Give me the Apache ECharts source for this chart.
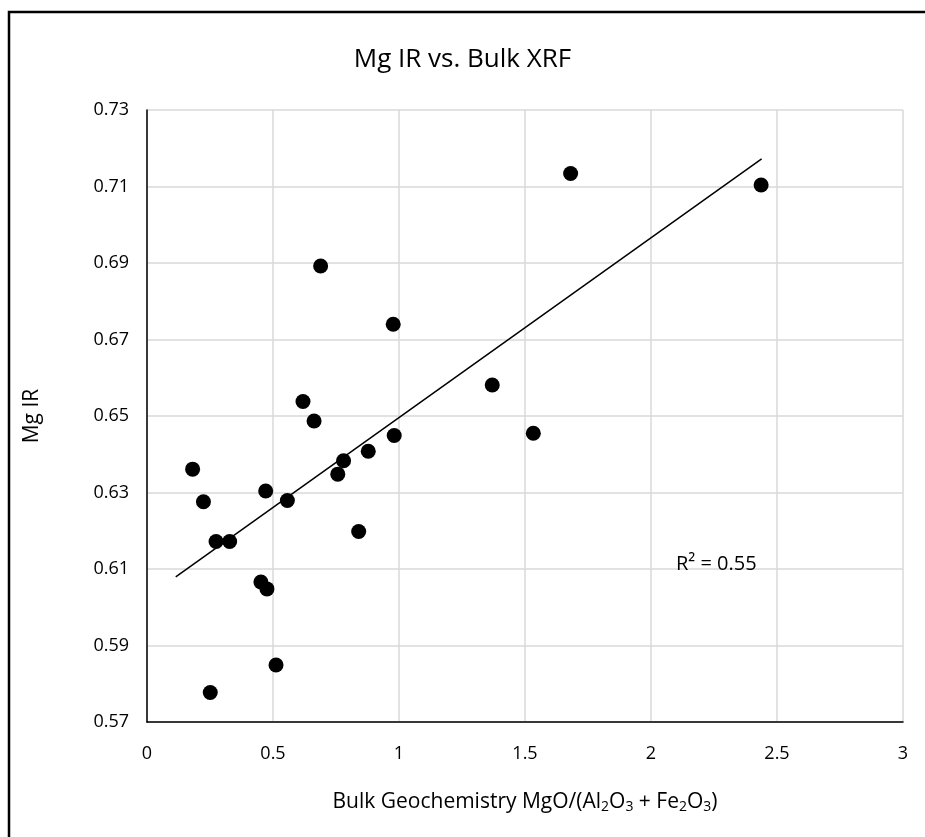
<!DOCTYPE html>
<html>
<head>
<meta charset="utf-8">
<script src="https://cdn.jsdelivr.net/npm/echarts@6/dist/echarts.min.js"></script>
<style>
html,body{margin:0;padding:0;background:#fff;}
#chart{width:925px;height:837px;}
</style>
</head>
<body>
<div id="chart"></div>
<script>
// Data
var bulkRatio = [0.181, 0.224, 0.251, 0.274, 0.328, 0.452, 0.471, 0.476, 0.512, 0.557, 0.619, 0.663, 0.689, 0.757, 0.780, 0.840, 0.878, 0.977, 0.981, 1.370, 1.533, 1.681, 2.437];
var mgIR      = [0.6361, 0.6276, 0.5777, 0.6172, 0.6172, 0.6066, 0.6304, 0.6048, 0.5849, 0.6279, 0.6538, 0.6487, 0.6892, 0.6348, 0.6383, 0.6198, 0.6408, 0.6740, 0.6449, 0.6581, 0.6455, 0.7134, 0.7104];
var trendXRange = [0.114, 2.439];
var r2Label = 'R² = 0.55';
var chartTitle = 'Mg IR vs. Bulk XRF';
var yAxisTitle = 'Mg IR';

// least-squares fit
var n = bulkRatio.length, sx = 0, sy = 0, sxx = 0, sxy = 0;
for (var i = 0; i < n; i++) { sx += bulkRatio[i]; sy += mgIR[i]; sxx += bulkRatio[i]*bulkRatio[i]; sxy += bulkRatio[i]*mgIR[i]; }
var slope = (n*sxy - sx*sy) / (n*sxx - sx*sx);
var intercept = (sy - slope*sx) / n;
var trendData = trendXRange.map(function(x){ return [x, intercept + slope*x]; });

var points = bulkRatio.map(function(x, i){ return [x, mgIR[i]]; });

var font = '"Open Sans", Lato, sans-serif';
var chart = echarts.init(document.getElementById('chart'), null, {renderer: 'canvas'});
chart.setOption({
  backgroundColor: '#fff',
  animation: false,
  title: {
    text: chartTitle, left: 'center', top: 42,
    textStyle: {fontFamily: font, fontSize: 26, fontWeight: 'normal', color: '#000'}
  },
  grid: {left: 147, right: 22, top: 110, bottom: 115},
  xAxis: {
    type: 'value', min: 0, max: 3, interval: 0.5,
    axisLine: {show: true, onZero: false, lineStyle: {color: '#000', width: 1.5}},
    axisTick: {show: false},
    splitLine: {show: true, lineStyle: {color: '#d9d9d9', width: 1.5}},
    axisLabel: {fontFamily: font, fontSize: 18, color: '#000', margin: 23},
    name: 'Bulk Geochemistry MgO/(Al{s|2}O{s|3} + Fe{s|2}O{s|3})',
    nameLocation: 'middle', nameGap: 68,
    nameTextStyle: {
      fontFamily: font, fontSize: 21, color: '#000',
      rich: {s: {fontFamily: font, fontSize: 14, color: '#000', verticalAlign: 'bottom', padding: [10, 0, 0, 0]}}
    }
  },
  yAxis: {
    type: 'value', min: 0.57, max: 0.73, interval: 0.02,
    axisLine: {show: true, onZero: false, lineStyle: {color: '#000', width: 1.5}},
    axisTick: {show: false},
    splitLine: {show: true, lineStyle: {color: '#d9d9d9', width: 1.5}},
    axisLabel: {fontFamily: font, fontSize: 18, color: '#000', margin: 18,
      formatter: function(v){ return v.toFixed(2); }},
    name: yAxisTitle, nameLocation: 'middle', nameGap: 104,
    nameTextStyle: {fontFamily: font, fontSize: 21, color: '#000'}
  },
  series: [
    {
      type: 'scatter', data: points, symbol: 'circle', symbolSize: 15,
      itemStyle: {color: '#000', opacity: 1}, z: 3
    },
    {
      type: 'line', data: trendData, symbol: 'none',
      lineStyle: {color: '#000', width: 1.5}, z: 2
    }
  ]
});

var p = chart.convertToPixel({gridIndex: 0}, [2.099, 0.6113]);
chart.setOption({
  graphic: [
    {type: 'rect', shape: {x: 9, y: 12, width: 960, height: 900},
     style: {fill: 'none', stroke: '#000', lineWidth: 2.5}, silent: true},
    {type: 'text', x: p[0], y: p[1],
     style: {text: r2Label, fontFamily: font, fontSize: 20, fill: '#000', textVerticalAlign: 'middle', verticalAlign: 'middle'}}
  ]
});
</script>
</body>
</html>
